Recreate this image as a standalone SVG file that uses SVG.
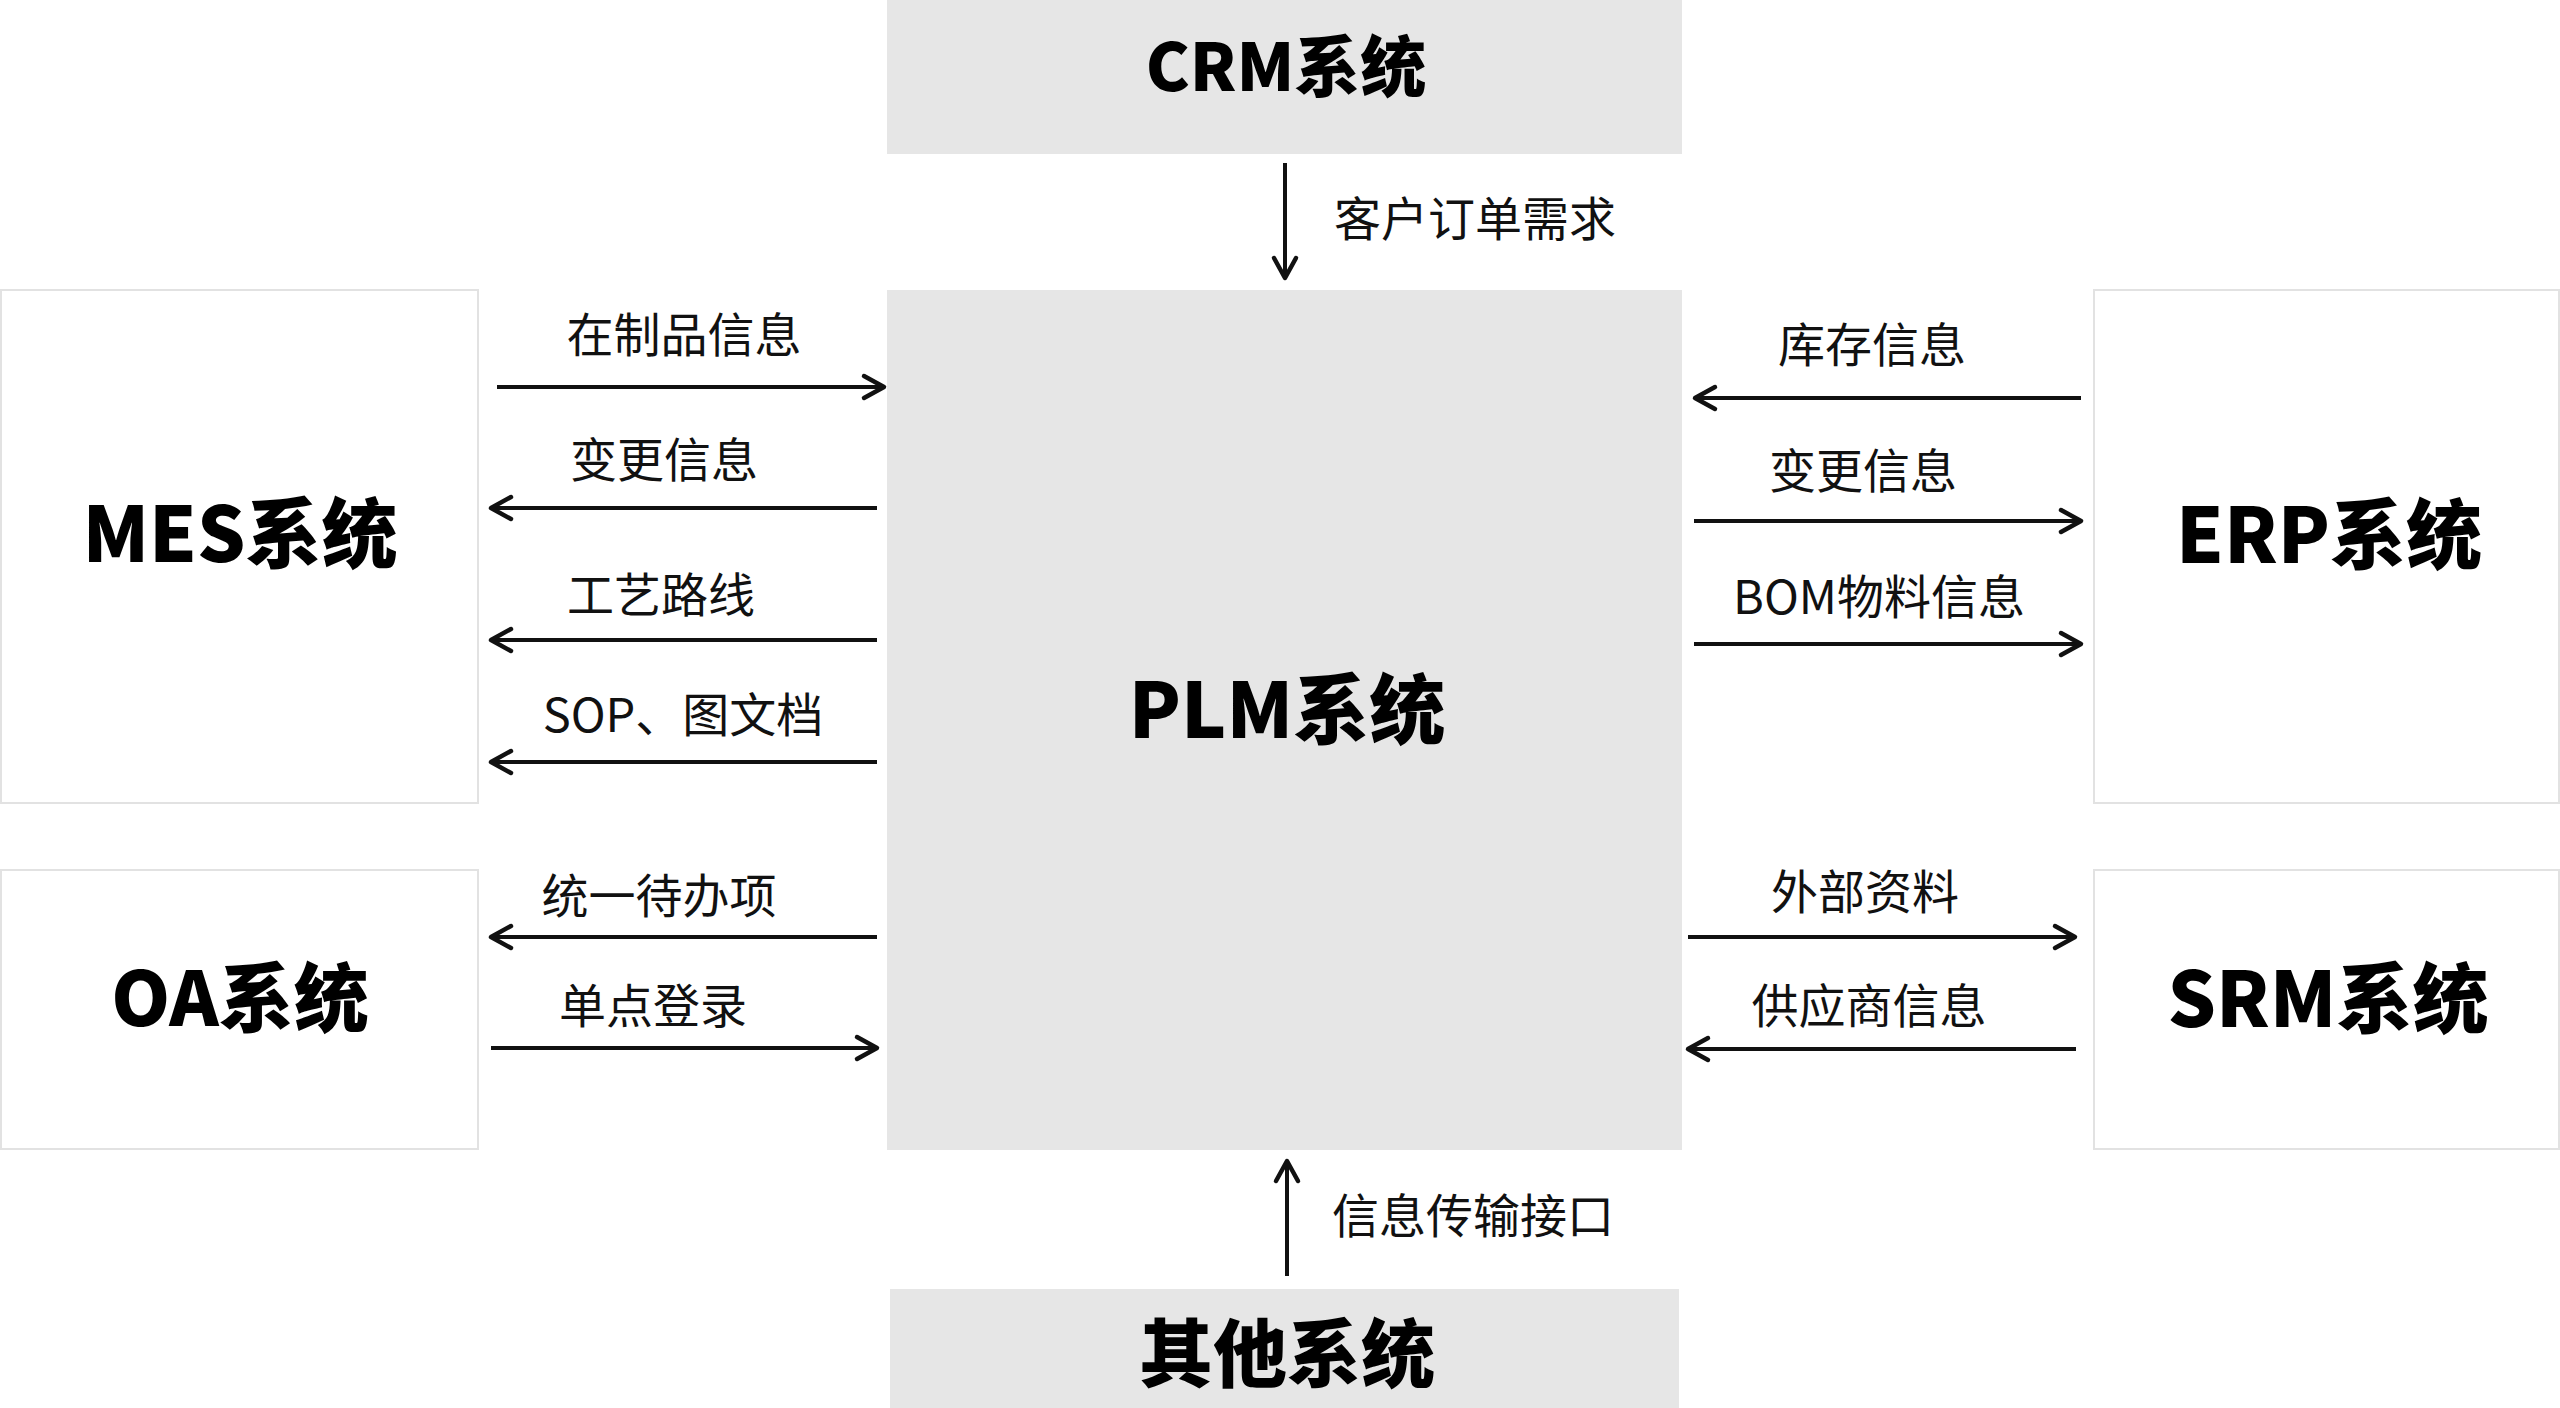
<svg xmlns="http://www.w3.org/2000/svg" width="2560" height="1408" viewBox="0 0 2560 1408">
<style>
.gbox{fill:#e6e6e6;stroke:none}
.wbox{fill:#ffffff;stroke:#e2e2e2;stroke-width:2}
.title{font-family:"Noto Sans CJK SC","Noto Sans",sans-serif;font-weight:900;fill:#000;text-anchor:middle}
.lbl{font-family:"Noto Sans CJK SC","Noto Sans",sans-serif;font-size:47px;fill:#111;text-anchor:middle}
.conn{stroke:#111;stroke-width:4;fill:none;marker-end:url(#ah)}
</style>
<defs>
<marker id="ah" markerUnits="userSpaceOnUse" markerWidth="32" markerHeight="32" viewBox="-26 -16 30 32" refX="0" refY="0" orient="auto">
<path d="M-20,-11 L0,0 L-20,11" fill="none" stroke="#111" stroke-width="4.5" stroke-linecap="round" stroke-linejoin="round"/>
</marker>
</defs>
<rect width="2560" height="1408" fill="#ffffff"/>
<g id="crm"><rect class="gbox" x="887" y="0" width="795" height="154"/><text class="title" x="1286" y="91" font-size="66">CRM系统</text></g>
<g id="plm"><rect class="gbox" x="887" y="290" width="795" height="860"/><text class="title" x="1287" y="738" font-size="76">PLM系统</text></g>
<g id="other"><rect class="gbox" x="890" y="1289" width="789" height="119"/><text class="title" x="1287" y="1381" font-size="74">其他系统</text></g>
<g id="mes"><rect class="wbox" x="1" y="290" width="477" height="513"/><text class="title" x="240" y="562" font-size="76">MES系统</text></g>
<g id="erp"><rect class="wbox" x="2094" y="290" width="465" height="513"/><text class="title" x="2329" y="563" font-size="76">ERP系统</text></g>
<g id="oa"><rect class="wbox" x="1" y="870" width="477" height="279"/><text class="title" x="240" y="1026" font-size="75">OA系统</text></g>
<g id="srm"><rect class="wbox" x="2094" y="870" width="465" height="279"/><text class="title" x="2328" y="1027" font-size="76">SRM系统</text></g>
<g id="connectors">
<line class="conn" x1="497" y1="387" x2="884" y2="387"/>
<line class="conn" x1="877" y1="508" x2="491" y2="508"/>
<line class="conn" x1="877" y1="640" x2="491" y2="640"/>
<line class="conn" x1="877" y1="762" x2="491" y2="762"/>
<line class="conn" x1="877" y1="937" x2="491" y2="937"/>
<line class="conn" x1="491" y1="1048" x2="877" y2="1048"/>
<line class="conn" x1="2081" y1="398" x2="1695" y2="398"/>
<line class="conn" x1="1694" y1="521" x2="2081" y2="521"/>
<line class="conn" x1="1694" y1="644" x2="2081" y2="644"/>
<line class="conn" x1="1688" y1="937" x2="2075" y2="937"/>
<line class="conn" x1="2076" y1="1049" x2="1688" y2="1049"/>
<line class="conn" x1="1285" y1="163" x2="1285" y2="278"/>
<line class="conn" x1="1287" y1="1276" x2="1287" y2="1161"/>
<text class="lbl" x="684" y="352">在制品信息</text>
<text class="lbl" x="664" y="477">变更信息</text>
<text class="lbl" x="661" y="612">工艺路线</text>
<text class="lbl" x="683" y="732">SOP、图文档</text>
<text class="lbl" x="659" y="913">统一待办项</text>
<text class="lbl" x="653" y="1023">单点登录</text>
<text class="lbl" x="1872" y="362">库存信息</text>
<text class="lbl" x="1863" y="488">变更信息</text>
<text class="lbl" x="1879" y="614">BOM物料信息</text>
<text class="lbl" x="1865" y="909">外部资料</text>
<text class="lbl" x="1869" y="1023">供应商信息</text>
<text class="lbl" x="1475" y="236">客户订单需求</text>
<text class="lbl" x="1473" y="1233">信息传输接口</text>
</g>
</svg>
